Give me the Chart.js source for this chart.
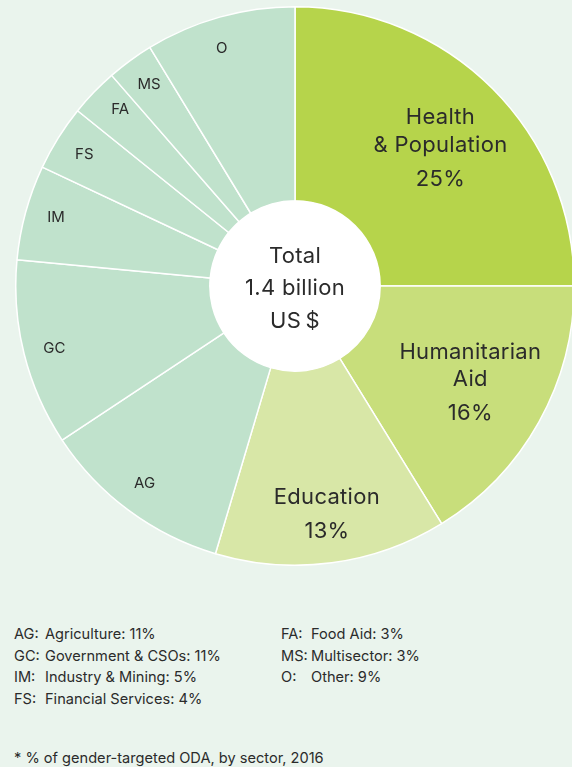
<!DOCTYPE html>
<html>
<head>
<meta charset="utf-8">
<script src="https://cdn.jsdelivr.net/npm/chart.js@4/dist/chart.umd.min.js"></script>
<style>
  html, body { margin: 0; padding: 0; }
  body {
    width: 572px; height: 767px; overflow: hidden; position: relative;
    background: #eaf4ed; font-family: Inter, "Noto Sans", sans-serif; color: #2b2b2b;
  }
  #chartBox { position: absolute; left: 15px; top: 6px; width: 560px; height: 560px; }
  .row { position: absolute; font-size: 14.6px; line-height: 22px; white-space: nowrap; }
  .row span { position: absolute; left: 0; }
  #note { position: absolute; left: 14px; top: 747px; font-size: 14.6px; line-height: 22px; white-space: nowrap; }
</style>
</head>
<body>
<div id="chartBox"><canvas id="sectorChart"></canvas></div>
<div id="legend"></div>
<div id="note">* % of gender-targeted ODA, by sector, 2016</div>

<script>
// Data
const sectors = ['Health\n& Population', 'Humanitarian\nAid', 'Education', 'Agriculture', 'Government & CSOs',
                 'Industry & Mining', 'Financial Services', 'Food Aid', 'Multisector', 'Other'];
const codes = ['', '', '', 'AG', 'GC', 'IM', 'FS', 'FA', 'MS', 'O'];
const shares = [25.0, 16.2, 13.4, 11.1, 10.8, 5.5, 3.8, 2.8, 2.7, 8.7];
const shareLabels = ['25%', '16%', '13%', '11%', '11%', '5%', '4%', '3%', '3%', '9%'];
const totalLines = ['Total', '1.4 billion', 'US\u2009$'];

const colors = ['#b6d44b', '#c8de7b', '#d8e7a7', '#c0e2cc', '#c0e2cc',
                '#c0e2cc', '#c0e2cc', '#c0e2cc', '#c0e2cc', '#c0e2cc'];
const textColor = '#2b2b2b';

// small angular nudges (degrees) so labels sit where the designer put them
const labelNudge = [1.6, -0.3, -0.4, 0.7, -0.5, 0.7, 0, 1.4, 0.2, -1.5];

// Draws the white centre disc, the total, and the labels inside the slices
const sliceLabels = {
    id: 'sliceLabels',
    afterDatasetsDraw(chart) {
        const ctx = chart.ctx;
        const arcs = chart.getDatasetMeta(0).data;
        ctx.save();
        ctx.fillStyle = textColor;
        ctx.textAlign = 'center';
        ctx.textBaseline = 'middle';

        arcs.forEach((arc, i) => {
            const p = arc.getProps(['x', 'y', 'startAngle', 'endAngle', 'outerRadius']);
            const mid = (p.startAngle + p.endAngle) / 2 + labelNudge[i] * Math.PI / 180;
            if (codes[i]) {
                const r = p.outerRadius * 0.89;
                ctx.font = '15px Inter';
                ctx.letterSpacing = '0px';
                ctx.fillText(codes[i], p.x + Math.cos(mid) * r, p.y + Math.sin(mid) * r);
                return;
            }
            const r = p.outerRadius * (i === 2 ? 0.825 : 0.717);
            const cx = p.x + Math.cos(mid) * r;
            const cy = p.y + Math.sin(mid) * r;
            const lines = sectors[i].split('\n');
            const height = 27.5 * (lines.length - 1) + 34;
            let y = cy - height / 2;
            ctx.font = '22px Inter';
            ctx.letterSpacing = '0.3px';
            lines.forEach(line => {
                ctx.fillText(line, cx, y);
                y += 27.5;
            });
            ctx.fillText(shareLabels[i], cx, y - 27.5 + 34);
        });

        // centre disc
        const a = arcs[0];
        ctx.beginPath();
        ctx.fillStyle = '#ffffff';
        ctx.arc(a.x, a.y, a.innerRadius, 0, Math.PI * 2);
        ctx.fill();
        ctx.fillStyle = textColor;
        ctx.font = '22px Inter';
        ctx.letterSpacing = '0.3px';
        totalLines.forEach((line, k) => {
            ctx.fillText(line, a.x, a.y + 2.5 + (k - 1) * 32.5);
        });
        ctx.restore();
    }
};

new Chart(document.getElementById('sectorChart').getContext('2d'), {
    type: 'doughnut',
    data: {
        labels: sectors,
        datasets: [{
            data: shares,
            backgroundColor: colors,
            borderColor: '#ffffff',
            borderWidth: 1.5
        }]
    },
    options: {
        responsive: true,
        maintainAspectRatio: false,
        animation: false,
        cutout: '30.5%',
        layout: { padding: 0 },
        plugins: {
            legend: { display: false },
            tooltip: { enabled: false }
        }
    },
    plugins: [sliceLabels]
});

// Key for the small sectors
const legend = document.getElementById('legend');
const leftCol = [3, 4, 5, 6];
const rightCol = [7, 8, 9];
function addKey(list, codeX, nameX) {
    list.forEach((idx, k) => {
        const row = document.createElement('div');
        row.className = 'row';
        row.style.top = (623 + k * 21.7) + 'px';
        row.style.left = codeX + 'px';
        row.innerHTML = `<span>${codes[idx]}:</span><span style="left:${nameX - codeX}px">${sectors[idx]}: ${shareLabels[idx]}</span>`;
        legend.appendChild(row);
    });
}
addKey(leftCol, 14, 45);
addKey(rightCol, 281, 311);
</script>
</body>
</html>
